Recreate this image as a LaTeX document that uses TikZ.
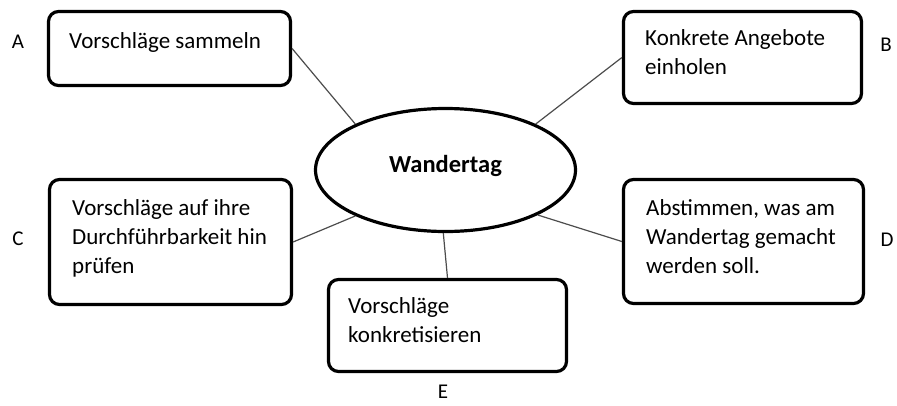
\documentclass[tikz,border=0pt]{standalone}
\usepackage{fontspec}
\setmainfont{Carlito}
\usetikzlibrary{shapes.geometric}

\begin{document}
\begin{tikzpicture}[x=1pt, y=1pt,
    box/.style={draw, rectangle, rounded corners=10pt, line width=3.2pt, inner sep=0pt},
    txt/.style={anchor=base west, align=left, inner sep=0pt, font=\fontsize{23}{29}\selectfont},
    letter/.style={inner sep=0pt, font=\fontsize{21}{25}\selectfont},
    link/.style={draw=black!70, line width=1.2pt}]
  \useasboundingbox (0,0) rectangle (897,-405);

  % centre
  \node[ellipse, draw, line width=3.2pt, minimum width=260, minimum height=123, inner sep=0pt] (tag) at (445.5,-170) {};
  \node[anchor=base, inner sep=0pt, font=\fontsize{24.5}{28}\selectfont\bfseries] (tagtext) at (445.5,-172) {Wandertag};

  % the five boxes
  \node[box, minimum width=242, minimum height=74] (A) at (169.5,-48.5) {};
  \node[box, minimum width=238, minimum height=92] (B) at (742.5,-57.5) {};
  \node[box, minimum width=242, minimum height=125] (C) at (170.5,-242) {};
  \node[box, minimum width=240, minimum height=124] (D) at (743.5,-241.5) {};
  \node[box, minimum width=238, minimum height=92] (E) at (447.5,-325.5) {};

  % base west sits on the last line
  \node[txt] (Atext) at (69,-48) {Vorschläge sammeln};
  \node[txt] (Btext) at (645,-74) {Konkrete Angebote\\einholen};
  \node[txt] (Ctext) at (72,-273) {Vorschläge auf ihre\\Durchführbarkeit hin\\prüfen};
  \node[txt] (Dtext) at (646,-273) {Abstimmen, was am\\Wandertag gemacht\\werden soll.};
  \node[txt] (Etext) at (348,-342) {Vorschläge\\konkretisieren};

  % letters
  \node[letter] (labA) at (18,-42) {A};
  \node[letter] (labB) at (886,-45) {B};
  \node[letter] (labC) at (18,-239) {C};
  \node[letter] (labD) at (887,-240) {D};
  \node[letter] (labE) at (443,-392) {E};

  % spokes
  \foreach \src/\side/\ang in {A/east/153, B/west/27, C/east/207, D/west/334, E/north/268}
    \draw[link] (\src.\side) -- (tag.\ang);
\end{tikzpicture}
\end{document}
